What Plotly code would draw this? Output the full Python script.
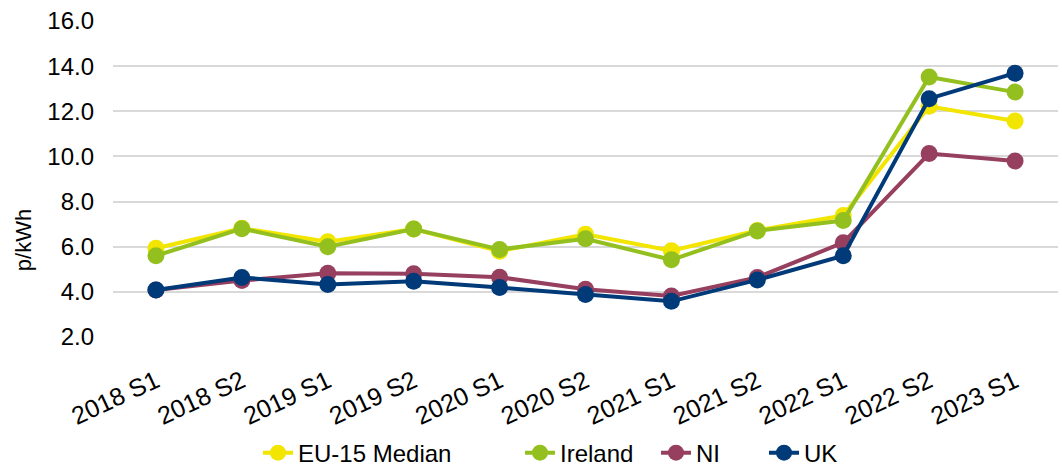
import plotly.graph_objects as go

periods = ["2018 S1", "2018 S2", "2019 S1", "2019 S2", "2020 S1", "2020 S2",
           "2021 S1", "2021 S2", "2022 S1", "2022 S2", "2023 S1"]

eu15_median = [5.93, 6.82, 6.22, 6.78, 5.80, 6.55, 5.82, 6.72, 7.38, 12.22, 11.57]
ireland = [5.60, 6.80, 6.00, 6.78, 5.88, 6.35, 5.42, 6.70, 7.16, 13.52, 12.85]
ni = [4.08, 4.50, 4.82, 4.80, 4.65, 4.12, 3.82, 4.64, 6.18, 10.13, 9.80]
uk = [4.08, 4.64, 4.33, 4.47, 4.19, 3.88, 3.58, 4.53, 5.60, 12.56, 13.69]

series = [
    ("EU-15 Median", eu15_median, "#F2E500"),
    ("Ireland", ireland, "#93C01F"),
    ("NI", ni, "#963F5E"),
    ("UK", uk, "#003A78"),
]

# one legend box per series so the entries can be spaced out along the bottom
legend_ids = ["legend", "legend2", "legend3", "legend4"]
legend_left_px = [258, 520, 656, 764]

PLOT_LEFT, PLOT_WIDTH = 113, 945
font_family = "Liberation Sans, Arial, sans-serif"

fig = go.Figure()
for (name, values, color), lid in zip(series, legend_ids):
    fig.add_trace(go.Scatter(
        x=periods, y=values, name=name, mode="lines+markers",
        line=dict(color=color, width=4),
        marker=dict(color=color, size=17),
        cliponaxis=False, legend=lid,
    ))

legend_layout = {}
for lid, left in zip(legend_ids, legend_left_px):
    legend_layout[lid] = dict(
        orientation="h", x=(left - PLOT_LEFT) / PLOT_WIDTH, xanchor="left",
        y=-0.296, yanchor="top", font=dict(size=24, family=font_family),
        bgcolor="rgba(0,0,0,0)",
    )

fig.update_layout(
    width=1062, height=469,
    margin=dict(l=PLOT_LEFT, r=4, t=21, b=132, autoexpand=False),
    paper_bgcolor="white", plot_bgcolor="white",
    font=dict(family=font_family, color="#000000", size=24),
    showlegend=True,
    **legend_layout,
)

fig.update_xaxes(
    type="category", range=[-0.5, 10.5], automargin=False,
    showgrid=False, zeroline=False, showline=False,
    tickangle=-25, tickfont=dict(size=25), ticklabelstandoff=24,
)
fig.update_yaxes(
    range=[2, 16], tick0=2, dtick=2, tickformat=".1f", automargin=False,
    showgrid=True, gridcolor="#D9D9D9", gridwidth=2,
    zeroline=False, showline=False,
    tickfont=dict(size=24), ticklabelstandoff=18,
)

# axis title sits low on the left, beside the lower ticks
fig.add_annotation(
    text="p/kWh", textangle=-90, showarrow=False,
    xref="paper", yref="paper", x=-0.094, y=0.307,
    xanchor="center", yanchor="middle",
    font=dict(size=22, family=font_family, color="#000000"),
)

fig.write_html("out.html")
